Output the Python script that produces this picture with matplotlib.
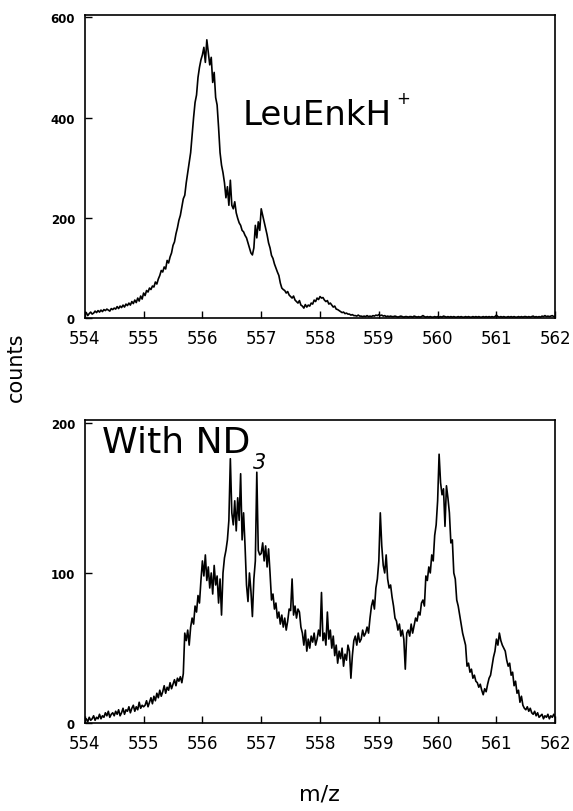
import numpy as np
import matplotlib
matplotlib.use("Agg")
import matplotlib.pyplot as plt

# m/z sampling used when reading the traces off the figure
MZ_START = 554.0
MZ_STEP = 0.025

# LeuEnkH+ spectrum, counts read every 0.025 m/z (rows = 0.5 m/z)
leuenk_counts = [
    6, 11, 5, 9, 12, 8, 10, 14, 11, 15, 12, 16, 13, 17, 15, 18, 16, 14, 19, 17,
    20, 18, 23, 19, 24, 21, 26, 22, 28, 25, 30, 26, 33, 29, 36, 31, 40, 34, 44, 38,
    50, 45, 55, 52, 60, 57, 64, 62, 72, 68, 78, 85, 95, 92, 102, 98, 115, 110, 122, 130,
    145, 152, 168, 180, 195, 205, 222, 238, 245, 270, 290, 310, 330, 365, 400, 430, 445, 480, 500, 515,
    525, 540, 510, 555, 530, 505, 520, 470, 490, 440, 425, 380, 330, 305, 290, 270, 240, 262, 225, 275,
    225, 218, 232, 210, 199, 190, 185, 175, 172, 165, 160, 150, 140, 130, 126, 140, 185, 160, 192, 175,
    218, 205, 192, 180, 166, 150, 140, 125, 119, 108, 100, 92, 85, 70, 60, 57, 55, 50, 53, 46,
    43, 40, 44, 36, 33, 30, 35, 26, 24, 20, 27, 22, 26, 24, 30, 28, 36, 33, 40, 37,
    43, 40, 41, 36, 33, 35, 28, 30, 26, 22, 24, 18, 17, 15, 13, 11, 12, 9, 10, 8,
    8, 6, 7, 5, 5, 4, 6, 4, 4, 3, 4, 3, 5, 3, 4, 3, 5, 4, 6, 5,
    7, 5, 6, 4, 5, 3, 4, 3, 4, 3, 3, 4, 3, 2, 3, 4, 3, 2, 3, 3,
    2, 3, 3, 2, 4, 3, 2, 3, 2, 3, 5, 3, 2, 3, 2, 3, 2, 2, 3, 2,
    3, 2, 3, 2, 4, 3, 2, 3, 2, 3, 2, 3, 2, 2, 3, 2, 3, 2, 2, 3,
    2, 3, 2, 2, 3, 2, 3, 2, 3, 2, 2, 3, 2, 3, 2, 3, 2, 3, 2, 3,
    6, 3, 2, 3, 2, 3, 2, 2, 3, 2, 3, 2, 3, 2, 2, 3, 2, 3, 2, 3,
    3, 2, 3, 2, 3, 4, 2, 3, 2, 3, 2, 4, 3, 5, 3, 4, 3, 4, 5, 3,
    4,
]

# same ion with ND3 added
nd3_counts = [
    2, 3, 1, 4, 2, 3, 5, 2, 4, 3, 6, 3, 5, 4, 7, 5, 8, 4, 6, 7,
    5, 8, 6, 9, 5, 7, 10, 6, 9, 8, 11, 7, 10, 12, 8, 11, 9, 14, 10, 12,
    11, 12, 15, 11, 14, 17, 13, 18, 15, 20, 17, 22, 18, 21, 25, 20, 24, 22, 27, 23,
    26, 29, 25, 30, 28, 31, 27, 33, 60, 55, 62, 52, 64, 70, 66, 78, 74, 85, 80, 95,
    108, 98, 112, 95, 104, 90, 100, 86, 105, 92, 98, 80, 96, 72, 100, 110, 115, 122, 135, 176,
    140, 132, 148, 128, 150, 135, 166, 122, 140, 118, 92, 81, 100, 88, 71, 96, 108, 167, 115, 112,
    113, 120, 108, 118, 104, 116, 100, 82, 86, 76, 80, 70, 74, 66, 72, 64, 70, 62, 68, 76,
    75, 96, 72, 78, 70, 76, 74, 64, 60, 52, 62, 48, 56, 50, 58, 54, 60, 52, 56, 62,
    58, 87, 55, 60, 52, 74, 56, 62, 50, 58, 45, 52, 40, 48, 43, 50, 38, 46, 42, 52,
    48, 30, 45, 55, 58, 52, 60, 54, 56, 62, 58, 60, 64, 60, 70, 78, 82, 76, 90, 96,
    108, 140, 118, 105, 100, 112, 96, 90, 92, 84, 78, 70, 68, 62, 66, 58, 62, 56, 36, 60,
    62, 58, 66, 60, 65, 70, 68, 74, 72, 80, 82, 78, 98, 95, 104, 100, 112, 108, 125, 132,
    148, 179, 160, 152, 156, 131, 158, 150, 140, 120, 122, 100, 96, 82, 78, 72, 66, 60, 56, 52,
    38, 40, 34, 36, 30, 32, 28, 27, 24, 26, 22, 19, 23, 21, 26, 30, 32, 38, 44, 48,
    56, 52, 60, 55, 52, 50, 48, 42, 38, 40, 32, 34, 25, 28, 20, 22, 14, 18, 12, 10,
    9, 11, 8, 10, 7, 6, 8, 5, 7, 4, 5, 6, 3, 5, 4, 6, 3, 5, 4, 6,
    4,
]

x_ticks = [554, 555, 556, 557, 558, 559, 560, 561, 562]
top_yticks = [0, 200, 400, 600]
bottom_yticks = [0, 100, 200]


def style_axes(ax, yticks, ymax):
    ax.set_xlim(554, 562)
    ax.set_ylim(0, ymax)
    ax.set_xticks(x_ticks)
    ax.set_yticks(yticks)
    ax.tick_params(axis="x", direction="in", length=5, width=1.0,
                   labelsize=12, pad=8, top=False)
    ax.tick_params(axis="y", direction="in", length=5, width=1.0,
                   labelsize=8.5, pad=7, right=False)
    for lab in ax.get_yticklabels():
        lab.set_fontweight("bold")
    for sp in ax.spines.values():
        sp.set_linewidth(1.2)
        sp.set_color("black")


fig = plt.figure(figsize=(5.73, 8.12), dpi=100)
ax_top = fig.add_axes([0.148, 0.607, 0.821, 0.373])
ax_bot = fig.add_axes([0.148, 0.108, 0.821, 0.374])

mz_top = MZ_START + MZ_STEP * np.arange(len(leuenk_counts))
mz_bot = MZ_START + MZ_STEP * np.arange(len(nd3_counts))

ax_top.plot(mz_top, leuenk_counts, color="black", linewidth=1.2)
ax_bot.plot(mz_bot, nd3_counts, color="black", linewidth=1.2)

style_axes(ax_top, top_yticks, 604)
style_axes(ax_bot, bottom_yticks, 202)

# panel labels
ax_top.text(0.336, 0.64, "LeuEnkH", transform=ax_top.transAxes,
            fontsize=24.5, va="baseline", ha="left")
ax_top.text(0.662, 0.71, "+", transform=ax_top.transAxes,
            fontsize=12, va="baseline", ha="left")
ax_bot.text(0.036, 0.895, "With ND", transform=ax_bot.transAxes,
            fontsize=26, va="baseline", ha="left")
ax_bot.text(0.358, 0.842, "3", transform=ax_bot.transAxes,
            fontsize=15, style="italic", va="baseline", ha="left")

fig.text(0.028, 0.548, "counts", rotation=90, fontsize=15,
         ha="center", va="center")
fig.text(0.557, 0.021, "m/z", fontsize=16, ha="center", va="center")

fig.savefig("out.png", dpi=100)
